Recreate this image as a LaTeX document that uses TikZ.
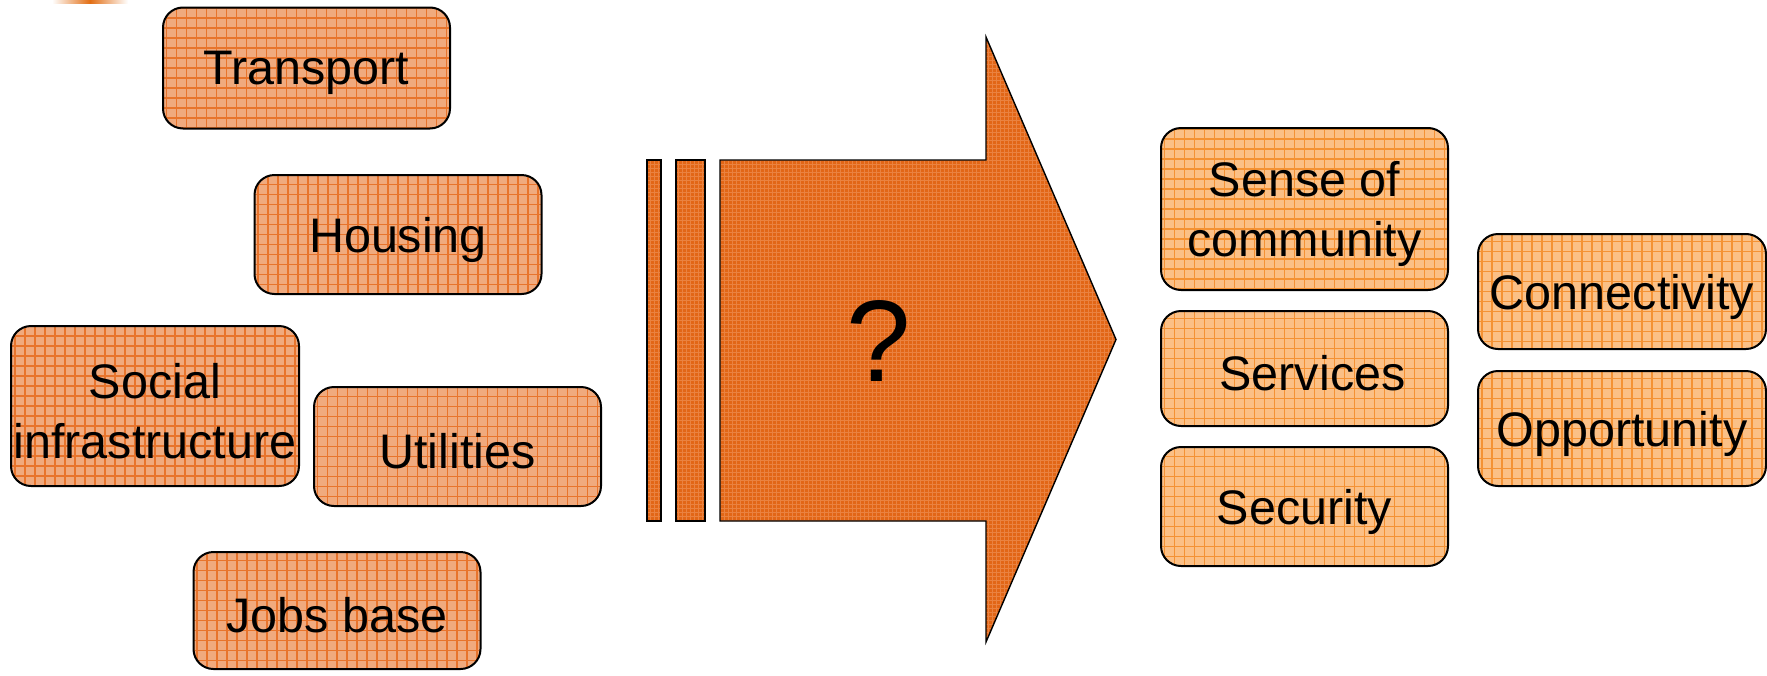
\documentclass[tikz,border=0pt]{standalone}
\usepackage{fontspec}
\setmainfont{Liberation Sans}
\definecolor{warmfill}{RGB}{240,170,126}
\definecolor{warmgrid}{RGB}{232,116,44}
\definecolor{lightfill}{RGB}{251,192,134}
\definecolor{lightgrid}{RGB}{244,146,52}
\definecolor{arrowfill}{RGB}{226,102,22}
\definecolor{arrowgrid}{RGB}{240,150,92}
\definecolor{flare}{RGB}{226,110,20}
\newcommand{\boxfont}{\fontsize{48.5}{59.5}\selectfont}
\tikzset{
  tile/.style={rectangle, rounded corners=20pt, draw=black, line width=2pt,
    inner sep=0pt, minimum width=287pt},
  warmtile/.style={tile, fill=warmfill,
    path picture={\draw[warmgrid, line width=1.2pt]
      (path picture bounding box.south west) grid[step=10pt]
      (path picture bounding box.north east);}},
  lighttile/.style={tile, fill=lightfill,
    path picture={\draw[lightgrid, line width=1.2pt]
      (path picture bounding box.south west) grid[step=10pt]
      (path picture bounding box.north east);}},
  tiletext/.style={inner sep=0pt, align=center, font=\boxfont},
  arrowpart/.style={draw=black, line width=1.4pt, fill=arrowfill,
    path picture={\draw[arrowgrid, line width=0.8pt, opacity=0.6]
      (path picture bounding box.south west) grid[step=4pt]
      (path picture bounding box.north east);}},
}
\begin{document}
\begin{tikzpicture}[x=1pt, y=-1pt]
\useasboundingbox (0,0) rectangle (1767,675);
\fill[white] (0,0) rectangle (1767,675);

% small flare at the top edge
\shade[left color=white, right color=white, middle color=flare] (52,0) rectangle (128,3);

% inputs
\node[warmtile, minimum height=121pt] (transport) at (306.5,68) {};
\node[warmtile, minimum height=119pt] (housing) at (398,234.5) {};
\node[warmtile, minimum height=160pt, minimum width=288pt] (social) at (155,406) {};
\node[warmtile, minimum height=119pt] (utilities) at (457.5,446.5) {};
\node[warmtile, minimum height=117pt] (jobs) at (337,610.5) {};

\node[tiletext] (transport-t) at ([yshift=-5pt]transport.center) {Transport};
\node[tiletext] (housing-t) at ([yshift=-5pt]housing.center) {Housing};
\node[tiletext] (social-t) at ([yshift=-5pt]social.center) {Social\\infrastructure};
\node[tiletext] (utilities-t) at ([yshift=-5pt]utilities.center) {Utilities};
\node[tiletext] (jobs-t) at ([yshift=-5pt]jobs.center) {Jobs base};

% the transforming arrow
\node[arrowpart, rectangle, inner sep=0pt, minimum width=14pt, minimum height=361pt] (bar1) at (654,340.5) {};
\node[arrowpart, rectangle, inner sep=0pt, minimum width=29pt, minimum height=361pt] (bar2) at (690.5,340.5) {};
\path[arrowpart] (720,160) -- (986,160) -- (986,37) -- (1116,339.5)
  -- (986,642) -- (986,521) -- (720,521) -- cycle;
\node[inner sep=0pt, font=\fontsize{116}{116}\selectfont] (q) at (879,341) {?};

% outcomes
\node[lighttile, minimum height=162pt] (sense) at (1304.5,209) {};
\node[lighttile, minimum height=115pt] (services) at (1304.5,368.5) {};
\node[lighttile, minimum height=119pt] (security) at (1304.5,506.5) {};
\node[lighttile, minimum height=115pt, minimum width=288pt] (connect) at (1622,291.5) {};
\node[lighttile, minimum height=115pt, minimum width=288pt] (opport) at (1622,428.5) {};

\node[tiletext] (sense-t) at ([yshift=-5pt]sense.center) {Sense of\\community};
\node[tiletext] (services-t) at ([xshift=8pt,yshift=-5pt]services.center) {Services};
\node[tiletext] (security-t) at ([yshift=-5pt]security.center) {Security};
\node[tiletext] (connect-t) at ([yshift=-5pt]connect.center) {Connectivity};
\node[tiletext] (opport-t) at ([yshift=-5pt]opport.center) {Opportunity};
\end{tikzpicture}
\end{document}
